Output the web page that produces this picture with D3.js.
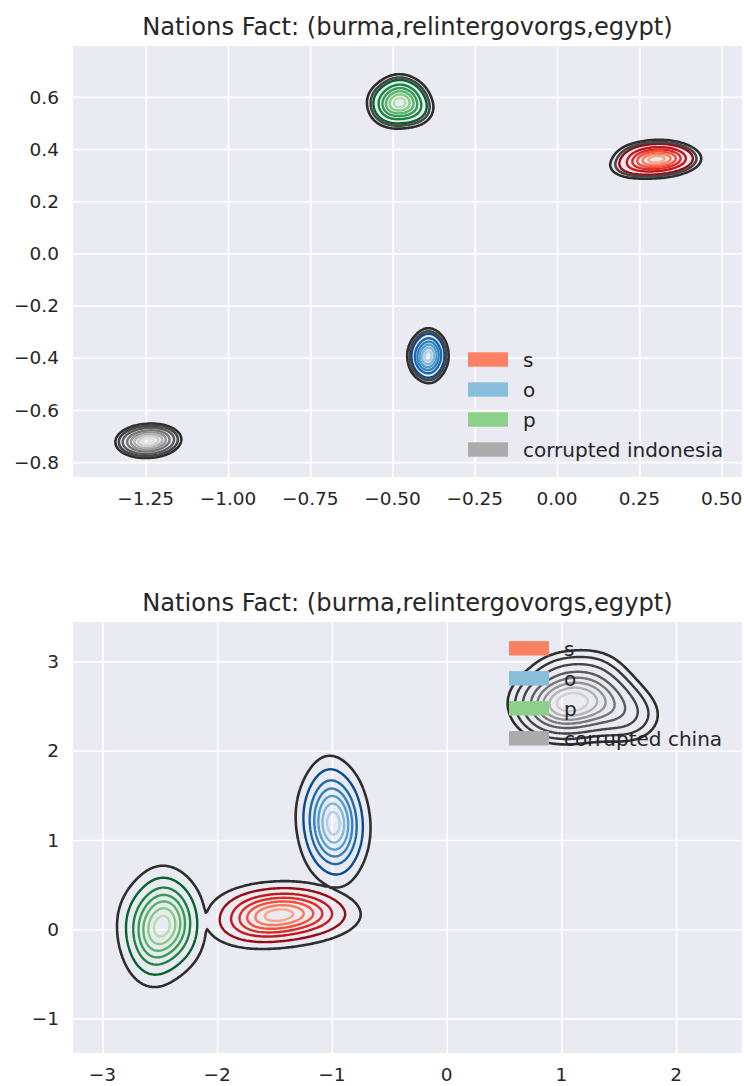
<!DOCTYPE html>
<html>
<head>
<meta charset="utf-8">
<script src="https://cdn.jsdelivr.net/npm/d3@7"></script>
<style>
  body { margin: 0; background: #ffffff; }
  text { font-family: "DejaVu Sans", sans-serif; fill: #262626; }
</style>
</head>
<body>
<svg id="chart" width="744" height="1086"></svg>
<script>
// ---------- data ----------
const chartTitle = "Nations Fact: (burma,relintergovorgs,egypt)";

// upper panel: axis extents and ticks
const topXDomain = [-1.471, 0.562];
const topYDomain = [-0.857, 0.795];
const topXTicks = [-1.25, -1.0, -0.75, -0.5, -0.25, 0.0, 0.25, 0.5];
const topYTicks = [-0.8, -0.6, -0.4, -0.2, 0.0, 0.2, 0.4, 0.6];
const topLegendLabels = ["s", "o", "p", "corrupted indonesia"];

// upper panel: embedded samples (x, y) per role
const topS = [[0.300,0.362],[0.330,0.368],[0.270,0.356],[0.315,0.388],[0.285,0.336],[0.355,0.352],
              [0.245,0.372],[0.325,0.340],[0.275,0.384],[0.310,0.365],[0.290,0.352],[0.345,0.381],
              [0.255,0.343],[0.370,0.365],[0.225,0.333]];
const topO = [[-0.392,-0.392],[-0.377,-0.384],[-0.407,-0.400],[-0.385,-0.359],[-0.400,-0.425],[-0.365,-0.404],
              [-0.420,-0.380],[-0.380,-0.421],[-0.405,-0.363],[-0.387,-0.388],[-0.397,-0.404],[-0.370,-0.367],
              [-0.415,-0.417],[-0.392,-0.343],[-0.387,-0.441]];
const topP = [[-0.481,0.577],[-0.458,0.586],[-0.504,0.568],[-0.469,0.611],[-0.493,0.543],[-0.438,0.564],
              [-0.524,0.590],[-0.462,0.547],[-0.500,0.607],[-0.473,0.581],[-0.489,0.564],[-0.446,0.603],
              [-0.516,0.551],[-0.481,0.629],[-0.430,0.551]];
const topCorrupted = [[-1.242,-0.718],[-1.220,-0.712],[-1.264,-0.724],[-1.231,-0.695],[-1.253,-0.741],
                      [-1.202,-0.727],[-1.282,-0.709],[-1.224,-0.738],[-1.260,-0.698],[-1.235,-0.715],
                      [-1.249,-0.727],[-1.209,-0.701],[-1.275,-0.735],[-1.195,-0.709],[-1.289,-0.727]];
// kernel bandwidths (x, y) per role
const topSBandwidth = [0.037, 0.024];
const topOBandwidth = [0.019, 0.031];
const topPBandwidth = [0.029, 0.032];
const topCorruptedBandwidth = [0.028, 0.0215];

// lower panel: axis extents and ticks
const bottomXDomain = [-3.257, 2.575];
const bottomYDomain = [-1.385, 3.441];
const bottomXTicks = [-3, -2, -1, 0, 1, 2];
const bottomYTicks = [-1, 0, 1, 2, 3];
const bottomLegendLabels = ["s", "o", "p", "corrupted china"];

// lower panel: embedded samples (x, y) per role
const bottomS = [[-1.460,0.170],[-1.310,0.202],[-1.610,0.138],[-1.385,0.298],[-1.535,0.042],[-1.185,0.122],
                 [-1.705,0.218],[-1.335,0.058],[-1.585,0.282],[-1.410,0.186],[-1.510,0.122],[-1.235,0.266],
                 [-1.670,0.074],[-1.085,0.170],[-1.725,0.020]];
const bottomO = [[-0.990,1.200],[-0.919,1.258],[-1.062,1.142],[-0.977,1.432],[-1.003,0.968],[-0.837,1.113],
                 [-1.143,1.287],[-0.902,0.997],[-1.078,1.403],[-0.967,1.229],[-1.006,1.113],[-0.893,1.374],
                 [-1.088,1.026],[-1.029,1.548],[-0.941,0.881]];
const bottomP = [[-2.480,0.040],[-2.385,0.093],[-2.575,-0.013],[-2.433,0.250],[-2.527,-0.170],[-2.325,-0.039],
                 [-2.654,0.119],[-2.401,-0.144],[-2.559,0.224],[-2.448,0.066],[-2.512,-0.039],[-2.345,0.198],
                 [-2.622,-0.118],[-2.480,0.356],[-2.559,-0.302]];
const bottomCorrupted = [[1.07,2.53],[1.20,2.56],[0.94,2.50],[1.14,2.67],[1.00,2.40],[1.31,2.48],
                         [0.83,2.58],[1.18,2.41],[0.96,2.65],[1.11,2.55],[1.03,2.48],[1.27,2.63],
                         [0.87,2.43],[1.47,2.46],[1.58,2.38],[1.40,2.62],[1.02,2.83],[1.27,2.85]];
const bottomSBandwidth = [0.19, 0.122];
const bottomOBandwidth = [0.0975, 0.22];
const bottomPBandwidth = [0.118, 0.197];
const bottomCorruptedBandwidth = [0.16, 0.16];

// contour levels, as fractions of each role's peak density
const roleLevels = [0.14, 0.30, 0.46, 0.62, 0.78, 0.92];
const topCorruptedLevels = [0.17, 0.32, 0.48, 0.64, 0.80, 0.93];
const bottomCorruptedLevels = [0.09, 0.18, 0.32, 0.46, 0.60, 0.74, 0.88];
// outlines drawn around the pooled density of all roles
const topPooledLevels = [0.04, 0.085];
const bottomPooledLevels = [0.04];
// exponent used when pooling role densities (soft maximum)
const poolExponent = 6;

// ---------- styling ----------
const legendColors = ["#fc8062", "#88bedc", "#8cd08a", "#ababab"];
const levelShades = [0.9, 0.78, 0.68, 0.57, 0.45, 0.32];
const ramps = [d3.interpolateReds, d3.interpolateBlues, d3.interpolateGreens];
const topGreyColors = ["#5c5c5c", "#777777", "#959595", "#b3b3b3", "#cfcfcf", "#e0e0e0"];
const bottomGreyColors = ["#363636", "#454545", "#5c5c5c", "#777777", "#959595", "#b3b3b3", "#cfcfcf"];
const pooledColors = ["#2e2e2e", "#474747"];

const svg = d3.select("#chart");

const panels = [
  { L: 73, T: 46, W: 669, H: 431,
    xDomain: topXDomain, yDomain: topYDomain, xTicks: topXTicks, yTicks: topYTicks,
    xFmt: d3.format(".2f"), yFmt: d3.format(".1f"),
    roles: [
      { pts: topS, bw: topSBandwidth, levels: roleLevels, colors: levelShades.map(ramps[0]) },
      { pts: topO, bw: topOBandwidth, levels: roleLevels, colors: levelShades.map(ramps[1]) },
      { pts: topP, bw: topPBandwidth, levels: roleLevels, colors: levelShades.map(ramps[2]) },
      { pts: topCorrupted, bw: topCorruptedBandwidth, levels: topCorruptedLevels, colors: topGreyColors }
    ],
    pooled: topPooledLevels,
    legend: topLegendLabels, legendX: 468, legendY: 359.5 },
  { L: 73, T: 622, W: 669, H: 431,
    xDomain: bottomXDomain, yDomain: bottomYDomain, xTicks: bottomXTicks, yTicks: bottomYTicks,
    xFmt: d3.format("d"), yFmt: d3.format("d"),
    roles: [
      { pts: bottomS, bw: bottomSBandwidth, levels: roleLevels, colors: levelShades.map(ramps[0]) },
      { pts: bottomO, bw: bottomOBandwidth, levels: roleLevels, colors: levelShades.map(ramps[1]) },
      { pts: bottomP, bw: bottomPBandwidth, levels: roleLevels, colors: levelShades.map(ramps[2]) },
      { pts: bottomCorrupted, bw: bottomCorruptedBandwidth, levels: bottomCorruptedLevels, colors: bottomGreyColors }
    ],
    pooled: bottomPooledLevels,
    legend: bottomLegendLabels, legendX: 509, legendY: 648.3 }
];

// Gaussian KDE evaluated on a pixel-aligned grid, normalised to peak 1
function kdeGrid(pts, bw, x, y, nx, ny, cw, ch, L, T) {
  const [hx, hy] = bw;
  const K = pts.length;
  const ex = new Float64Array(nx * K), ey = new Float64Array(ny * K);
  for (let i = 0; i < nx; i++) {
    const vx = x.invert(L + (i + 0.5) * cw);
    for (let k = 0; k < K; k++) { const d = (vx - pts[k][0]) / hx; ex[i * K + k] = Math.exp(-0.5 * d * d); }
  }
  for (let j = 0; j < ny; j++) {
    const vy = y.invert(T + (j + 0.5) * ch);
    for (let k = 0; k < K; k++) { const d = (vy - pts[k][1]) / hy; ey[j * K + k] = Math.exp(-0.5 * d * d); }
  }
  const g = new Float64Array(nx * ny);
  let max = 0;
  for (let j = 0; j < ny; j++) {
    for (let i = 0; i < nx; i++) {
      let s = 0;
      for (let k = 0; k < K; k++) s += ex[i * K + k] * ey[j * K + k];
      g[j * nx + i] = s;
      if (s > max) max = s;
    }
  }
  for (let n = 0; n < g.length; n++) g[n] /= max;
  return g;
}

panels.forEach((p, pi) => {
  const x = d3.scaleLinear().domain(p.xDomain).range([p.L, p.L + p.W]);
  const y = d3.scaleLinear().domain(p.yDomain).range([p.T + p.H, p.T]);
  const g = svg.append("g");

  g.append("rect").attr("x", p.L).attr("y", p.T).attr("width", p.W).attr("height", p.H).attr("fill", "#eaeaf2");

  const clipId = "clip" + pi;
  svg.append("clipPath").attr("id", clipId)
    .append("rect").attr("x", p.L).attr("y", p.T).attr("width", p.W).attr("height", p.H);

  // grid
  g.append("g").call(d3.axisBottom(x).tickValues(p.xTicks).tickSize(-p.H).tickFormat(""))
    .attr("transform", `translate(0,${p.T + p.H})`)
    .call(a => { a.select(".domain").remove(); a.selectAll("line").attr("stroke", "#ffffff").attr("stroke-width", 1.6); });
  g.append("g").call(d3.axisLeft(y).tickValues(p.yTicks).tickSize(-p.W).tickFormat(""))
    .attr("transform", `translate(${p.L},0)`)
    .call(a => { a.select(".domain").remove(); a.selectAll("line").attr("stroke", "#ffffff").attr("stroke-width", 1.6); });

  // tick labels
  g.selectAll(".xl").data(p.xTicks).enter().append("text")
    .attr("x", d => x(d)).attr("y", p.T + p.H + 28).attr("text-anchor", "middle")
    .attr("font-size", 18.5).text(d => p.xFmt(d));
  g.selectAll(".yl").data(p.yTicks).enter().append("text")
    .attr("x", p.L - 14).attr("y", d => y(d)).attr("dy", "0.36em").attr("text-anchor", "end")
    .attr("font-size", 18.5).text(d => p.yFmt(d));

  // title
  g.append("text").attr("x", p.L + p.W / 2).attr("y", p.T - 11).attr("text-anchor", "middle")
    .attr("font-size", 24.2).text(chartTitle);

  // density contours
  const cell = 1.5;
  const nx = Math.ceil(p.W / cell), ny = Math.ceil(p.H / cell);
  const cw = p.W / nx, ch = p.H / ny;
  const toPixels = d3.geoTransform({
    point(gx, gy) { this.stream.point(p.L + gx * cw, p.T + gy * ch); }
  });
  const path = d3.geoPath(toPixels);

  const plot = g.append("g").attr("clip-path", `url(#${clipId})`).attr("fill", "none")
    .attr("stroke-linejoin", "round");
  const pooled = new Float64Array(nx * ny);

  p.roles.forEach(r => {
    const grid = kdeGrid(r.pts, r.bw, x, y, nx, ny, cw, ch, p.L, p.T);
    for (let n = 0; n < grid.length; n++) pooled[n] += Math.pow(grid[n], poolExponent);
    const cs = d3.contours().size([nx, ny]).thresholds(r.levels)(grid);
    plot.append("g").selectAll("path").data(cs).enter().append("path")
      .attr("d", path)
      .attr("stroke", (d, i) => r.colors[i])
      .attr("stroke-width", 2.4);
  });
  for (let n = 0; n < pooled.length; n++) pooled[n] = Math.pow(pooled[n], 1 / poolExponent);

  const outline = d3.contours().size([nx, ny]).thresholds(p.pooled)(pooled);
  plot.append("g").selectAll("path").data(outline).enter().append("path")
    .attr("d", path).attr("stroke", (d, i) => pooledColors[i]).attr("stroke-width", 2.6);

  // legend
  const lg = g.append("g");
  p.legend.forEach((lab, i) => {
    const cy = p.legendY + i * 30;
    lg.append("rect").attr("x", p.legendX).attr("y", cy - 7.2).attr("width", 40).attr("height", 14.4)
      .attr("fill", legendColors[i]);
    lg.append("text").attr("x", p.legendX + 55).attr("y", cy + 7.3).attr("font-size", 20).text(lab);
  });
});
</script>
</body>
</html>
